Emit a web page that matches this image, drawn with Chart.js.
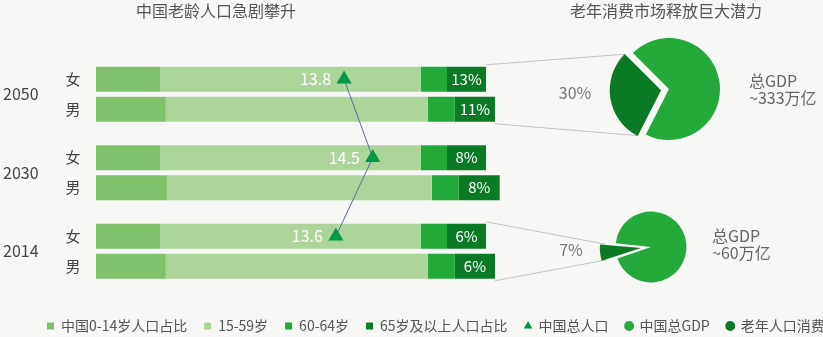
<!DOCTYPE html>
<html>
<head>
<meta charset="utf-8">
<script src="https://cdn.jsdelivr.net/npm/chart.js@4.4.1/dist/chart.umd.min.js"></script>
<style>
  html, body { margin: 0; padding: 0; background: #f7f7f5; }
  #wrap { position: relative; width: 823px; height: 337px; overflow: hidden;
          font-family: "Noto Sans CJK SC", "Noto Sans", sans-serif; }
  canvas { position: absolute; }
  .txt { position: absolute; white-space: nowrap; font-size: 16px; line-height: 18px; }
  .title { color: #555; text-align: center; top: 1px; }
  .share { color: #777; text-align: center; width: 60px; }
  .gdp { color: #666; line-height: 17px; }
</style>
</head>
<body>
<div id="wrap">
  <canvas id="bars" width="823" height="337" style="left:0;top:0"></canvas>
  <canvas id="pie2050" width="160" height="140" style="left:589px;top:19px"></canvas>
  <canvas id="pie2014" width="160" height="100" style="left:571px;top:197px"></canvas>
  <div class="txt title" style="left:0;width:432px">中国老龄人口急剧攀升</div>
  <div class="txt title" style="left:546px;width:240px">老年消费市场释放巨大潜力</div>
</div>
<script>
// 人口结构（条宽按图估读）
var years = ['2050', '2030', '2014'];
var sexes = ['女', '男'];
var ageGroups = ['中国0-14岁人口占比', '15-59岁', '60-64岁', '65岁及以上人口占比'];
var female0to14 = [16.4, 16.4, 16.4];
var female15to59 = [66.9, 66.9, 66.9];
var female60to64 = [6.7, 6.7, 6.7];
var female65plus = [10.0, 10.0, 10.0];
var male0to14 = [17.9, 18.2, 17.9];
var male15to59 = [67.2, 67.9, 67.2];
var male60to64 = [6.9, 6.9, 6.9];
var male65plus = [10.3, 10.5, 10.3];
// 65岁及以上标注
var female65Label = [13, 8, 6];
var male65Label = [11, 8, 6];
// 中国总人口（亿）
var totalPopulation = [13.8, 14.5, 13.6];
// 老年消费
var pieYears = ['2050', '2014'];
var elderShare = [30, 7];
var gdpTotal = ['~333万亿', '~60万亿'];

var FONT = '"Noto Sans CJK SC", "Noto Sans", sans-serif';
var ageColors = ['#80c26b', '#acd59a', '#23a93a', '#0b7a25'];
var popColor = '#009a44';
var gdpColor = '#23aa3a';
var elderColor = '#0b7a25';

Chart.defaults.font.family = FONT;

// 饼图
var pieSetup = [
  { id: 'pie2050', rotation: 207, radius: 51, offset: 32, shareAt: [545, 83], gdpAt: [749, 72] },
  { id: 'pie2014', rotation: 251, radius: 35.5, offset: 40, shareAt: [541, 240], gdpAt: [712, 227] }
];
var pies = pieSetup.map(function (p, k) {
  return new Chart(document.getElementById(p.id), {
    type: 'pie',
    data: {
      labels: ['老年人口消费', '中国总GDP'],
      datasets: [{
        data: [elderShare[k], 100 - elderShare[k]],
        backgroundColor: [elderColor, gdpColor],
        borderWidth: 0,
        offset: [p.offset, 0]
      }]
    },
    options: {
      responsive: false, animation: false, events: [],
      radius: p.radius, rotation: p.rotation,
      plugins: { legend: { display: false }, tooltip: { enabled: false } }
    }
  });
});

var wrap = document.getElementById('wrap');
pieSetup.forEach(function (p, k) {
  var s = document.createElement('div');
  s.className = 'txt share';
  s.style.left = p.shareAt[0] + 'px';
  s.style.top = p.shareAt[1] + 'px';
  s.textContent = elderShare[k] + '%';
  wrap.appendChild(s);
  var g = document.createElement('div');
  g.className = 'txt gdp';
  g.style.left = p.gdpAt[0] + 'px';
  g.style.top = p.gdpAt[1] + 'px';
  g.innerHTML = '总GDP<br>' + gdpTotal[k];
  wrap.appendChild(g);
});

function sliceCorners(pie) {
  var arc = pie.getDatasetMeta(0).data[0];
  var off = (arc.options.offset || 0) / 4;
  var mid = (arc.startAngle + arc.endAngle) / 2;
  var cx = arc.x + Math.cos(mid) * off + pie.canvas.offsetLeft;
  var cy = arc.y + Math.sin(mid) * off + pie.canvas.offsetTop;
  var r = arc.outerRadius;
  var a = { x: cx + r * Math.cos(arc.startAngle), y: cy + r * Math.sin(arc.startAngle) };
  var b = { x: cx + r * Math.cos(arc.endAngle), y: cy + r * Math.sin(arc.endAngle) };
  return a.y < b.y ? { upper: a, lower: b } : { upper: b, lower: a };
}

var overlay = {
  id: 'overlay',
  afterDatasetsDraw: function (chart) {
    var ctx = chart.ctx;
    var fBars = chart.getDatasetMeta(0).data;
    var mBars = chart.getDatasetMeta(4).data;
    var fTop = chart.getDatasetMeta(3).data;
    var mTop = chart.getDatasetMeta(7).data;
    var x2 = chart.scales.x2;
    ctx.save();
    ctx.textBaseline = 'middle';
    ctx.textAlign = 'center';
    ctx.font = '15px ' + FONT;
    ctx.fillStyle = '#444';
    years.forEach(function (yr, i) {
      ctx.fillText(sexes[0], chart.chartArea.left - 23, fBars[i].y);
      ctx.fillText(sexes[1], chart.chartArea.left - 23, mBars[i].y);
    });
    ctx.fillStyle = '#fff';
    years.forEach(function (yr, i) {
      ctx.fillText(female65Label[i] + '%', (fTop[i].x + fTop[i].base) / 2, fTop[i].y);
      ctx.fillText(male65Label[i] + '%', (mTop[i].x + mTop[i].base) / 2, mTop[i].y);
    });
    var pts = totalPopulation.map(function (v, i) {
      return { x: x2.getPixelForValue(v), y: fBars[i].y };
    });
    ctx.strokeStyle = '#5b6fa0';
    ctx.lineWidth = 1;
    ctx.beginPath();
    pts.forEach(function (p, i) { if (i) ctx.lineTo(p.x, p.y); else ctx.moveTo(p.x, p.y); });
    ctx.stroke();
    ctx.fillStyle = popColor;
    var r = 8.7;
    pts.forEach(function (p) {
      ctx.beginPath();
      ctx.moveTo(p.x, p.y - r);
      ctx.lineTo(p.x + r * 0.866, p.y + r / 2);
      ctx.lineTo(p.x - r * 0.866, p.y + r / 2);
      ctx.closePath();
      ctx.fill();
    });
    ctx.fillStyle = '#fff';
    ctx.textAlign = 'right';
    ctx.font = '16px ' + FONT;
    pts.forEach(function (p, i) {
      ctx.fillText(totalPopulation[i].toFixed(1), p.x - 13, p.y);
    });
    ctx.restore();
  },
  afterDraw: function (chart) {
    var ctx = chart.ctx;
    var fTop = chart.getDatasetMeta(3).data;
    var mTop = chart.getDatasetMeta(7).data;
    ctx.save();
    ctx.strokeStyle = '#c4c4c4';
    ctx.lineWidth = 1;
    pieYears.forEach(function (yr, k) {
      var i = years.indexOf(yr);
      var c = sliceCorners(pies[k]);
      var f = fTop[i], m = mTop[i];
      ctx.beginPath();
      ctx.moveTo(f.x, f.y - f.height / 2 - 2);
      ctx.lineTo(c.upper.x, c.upper.y);
      ctx.moveTo(m.x, m.y + m.height / 2 + 2);
      ctx.lineTo(c.lower.x, c.lower.y);
      ctx.stroke();
    });
    ctx.restore();
  }
};

var femaleRows = [female0to14, female15to59, female60to64, female65plus];
var maleRows = [male0to14, male15to59, male60to64, male65plus];
var barSets = [];
[femaleRows, maleRows].forEach(function (rows, s) {
  rows.forEach(function (vals, g) {
    barSets.push({
      label: ageGroups[g],
      data: vals,
      stack: sexes[s],
      backgroundColor: ageColors[g],
      borderWidth: 0,
      barPercentage: 0.833,
      categoryPercentage: 0.764
    });
  });
});

var legendItems = ageGroups.map(function (t, g) {
  return { text: t, fillStyle: ageColors[g], strokeStyle: ageColors[g], lineWidth: 0, pointStyle: 'rect', hidden: false, fontColor: '#555' };
}).concat([
  { text: '中国总人口', fillStyle: popColor, strokeStyle: popColor, lineWidth: 0, pointStyle: 'triangle', hidden: false, fontColor: '#555' },
  { text: '中国总GDP', fillStyle: gdpColor, strokeStyle: gdpColor, lineWidth: 0, pointStyle: 'circle', hidden: false, fontColor: '#555' },
  { text: '老年人口消费', fillStyle: elderColor, strokeStyle: elderColor, lineWidth: 0, pointStyle: 'circle', hidden: false, fontColor: '#555' }
]);

new Chart(document.getElementById('bars'), {
  type: 'bar',
  data: { labels: years, datasets: barSets },
  options: {
    indexAxis: 'y',
    responsive: false,
    animation: false,
    events: [],
    // 右侧负留白只为让图例排成一行
    layout: { autoPadding: false, padding: { left: 30, right: -20, top: 55, bottom: -6 } },
    scales: {
      x: { stacked: true, display: false, min: 0, max: 186.4 },
      x2: {
        type: 'linear', position: 'bottom', min: 7.75, max: 25.48,
        ticks: { display: false }, grid: { display: false }, border: { display: false },
        afterFit: function (s) { s.height = 11.5; }
      },
      y: {
        stacked: true,
        grid: { display: false }, border: { display: false },
        // 年份标签贴左边缘
        ticks: { color: '#444', mirror: true, padding: -93, font: { size: 16 } },
        afterFit: function (s) { s.width = 66; }
      }
    },
    plugins: {
      tooltip: { enabled: false },
      legend: {
        position: 'bottom',
        align: 'start',
        labels: {
          usePointStyle: true, boxWidth: 7, boxHeight: 7, padding: 17,
          color: '#555', font: { size: 14 },
          generateLabels: function () { return legendItems; }
        }
      }
    }
  },
  plugins: [overlay]
});
</script>
</body>
</html>
